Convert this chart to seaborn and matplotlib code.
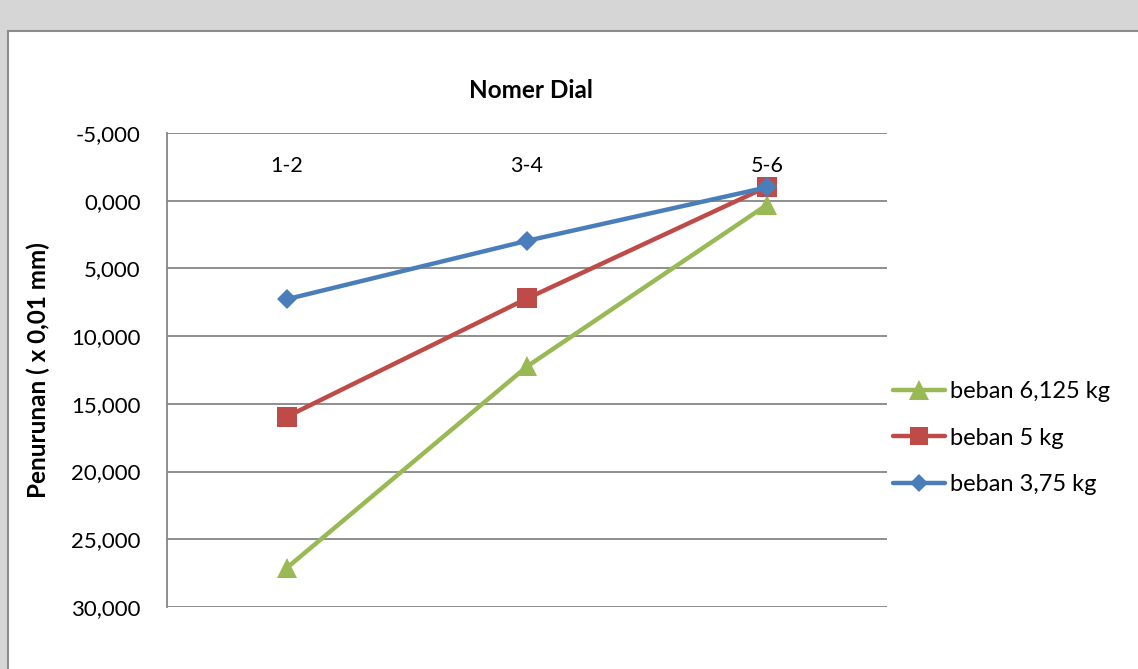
import matplotlib
matplotlib.use("Agg")
import matplotlib.pyplot as plt
from matplotlib.patches import Rectangle
from matplotlib.ticker import FuncFormatter
from matplotlib.lines import Line2D
import pandas as pd
import seaborn as sns

# Dial pairs and settlement readings (x 0,01 mm) for each load
dial_pairs = ["1-2", "3-4", "5-6"]
beban_3_75 = [7.27, 2.96, -0.99]
beban_5 = [15.94, 7.22, -1.03]
beban_6_125 = [27.1, 12.24, 0.3]
series_names = ["beban 6,125 kg", "beban 5 kg", "beban 3,75 kg"]
y_ticks = [-5, 0, 5, 10, 15, 20, 25, 30]

records = []
for name, vals in zip(series_names, [beban_6_125, beban_5, beban_3_75]):
    for i, (lbl, v) in enumerate(zip(dial_pairs, vals)):
        records.append({"pos": i, "dial": lbl, "penurunan": v, "seri": name})
df = pd.DataFrame(records)

sns.set_theme(style="white")
plt.rcParams["font.family"] = ["Lato", "DejaVu Sans"]
plt.rcParams["text.color"] = "black"

colors = {"beban 6,125 kg": "#98b954", "beban 5 kg": "#be4b48", "beban 3,75 kg": "#4a7ebb"}
markers = {"beban 6,125 kg": "^", "beban 5 kg": "s", "beban 3,75 kg": "D"}
msizes = {"beban 6,125 kg": 15, "beban 5 kg": 14, "beban 3,75 kg": 10}

fig = plt.figure(figsize=(11.38, 6.69), dpi=100)
fig.patch.set_facecolor("#d6d6d6")

# white chart panel with a grey frame, behind the axes
W, H = 1138, 669
panel = Rectangle((8 / W, -0.05), 1.2, (H - 31) / H + 0.05, transform=fig.transFigure,
                  facecolor="white", edgecolor="#8c8c8c", linewidth=1.5, zorder=-10)
fig.patches.append(panel)

ax = fig.add_axes([167 / W, (H - 607) / H, 720 / W, 474 / H])
ax.set_zorder(1)
ax.set_facecolor("none")

# draw in order so blue sits on top
for name in ["beban 6,125 kg", "beban 5 kg", "beban 3,75 kg"]:
    sub = df[df["seri"] == name]
    sns.lineplot(data=sub, x="pos", y="penurunan", ax=ax, color=colors[name],
                 marker=markers[name], markersize=msizes[name], markeredgewidth=0,
                 linewidth=3.2, legend=False, zorder=3)

ax.set_xlim(-0.5, 2.5)
ax.set_ylim(30, -5)
ax.set_yticks(y_ticks)
ax.yaxis.set_major_formatter(FuncFormatter(lambda v, p: f"{v:.3f}".replace(".", ",")))
ax.grid(axis="y", color="#868686", linewidth=1.3)
ax.grid(axis="x", visible=False)
for side in ["top", "right", "bottom"]:
    ax.spines[side].set_visible(False)
ax.spines["left"].set_color("#868686")
ax.spines["left"].set_linewidth(1.3)

ax.set_xticks(range(len(dial_pairs)))
ax.set_xticklabels(dial_pairs)
ax.tick_params(axis="x", bottom=False, labelbottom=False, top=False, labeltop=True,
               pad=-37, labelsize=15.5, labelcolor="black")
ax.tick_params(axis="y", left=False, labelsize=16, pad=13, labelcolor="black")

ax.set_xlabel("")
ax.set_ylabel("Penurunan ( x 0,01 mm)", fontsize=17.5, fontweight="bold", labelpad=15,
              color="black")
fig.text(531 / W, 1 - 91 / H, "Nomer Dial", ha="center", va="center",
         fontsize=17.5, fontweight="bold", color="black")

handles = [Line2D([], [], color=colors[n], marker=markers[n], markersize=msizes[n] - 1,
                  markeredgewidth=0, linewidth=3.2) for n in series_names]
leg = fig.legend(handles, series_names, loc="upper left",
                 bbox_to_anchor=(872 / W, 1 - 360 / H), frameon=False,
                 fontsize=17, handlelength=2.2, handletextpad=0.2, labelspacing=1.08)
for t in leg.get_texts():
    t.set_color("black")

fig.savefig("out.png", dpi=100, facecolor=fig.get_facecolor())
